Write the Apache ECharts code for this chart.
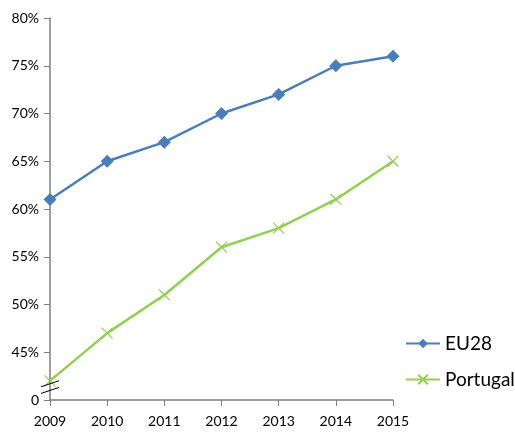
<!DOCTYPE html>
<html>
<head>
<meta charset="utf-8">
<script src="https://cdn.jsdelivr.net/npm/echarts@6/dist/echarts.min.js"></script>
<style>
  html, body { margin: 0; padding: 0; background: #fff; }
  #chart { width: 515px; height: 435px; }
</style>
</head>
<body>
<div id="chart"></div>
<script>
  // data
  var years = ['2009', '2010', '2011', '2012', '2013', '2014', '2015'];
  var eu28 = [61, 65, 67, 70, 72, 75, 76];
  var portugal = [42, 47, 51, 56, 58, 61, 65];
  var yMin = 40, yMax = 80, yStep = 5;

  var axisColor = '#7f7f7f';
  var labelFont = 'Lato';

  var myChart = echarts.init(document.getElementById('chart'));
  var option = {
    animation: false,
    backgroundColor: '#fff',
    textStyle: { fontFamily: labelFont },
    grid: { left: 50, right: 122, top: 18, bottom: 35 },
    legend: {
      orient: 'vertical',
      left: 400,
      top: 329,
      itemWidth: 34,
      itemHeight: 12,
      itemGap: 17,
      textStyle: { fontSize: 19, color: '#000', fontFamily: labelFont },
      data: ['EU28', 'Portugal']
    },
    xAxis: {
      type: 'category',
      data: years,
      boundaryGap: false,
      axisLine: { lineStyle: { color: axisColor, width: 1.5 } },
      axisTick: { alignWithLabel: true, length: 6, lineStyle: { color: axisColor } },
      axisLabel: { color: '#000', fontSize: 14, margin: 14 }
    },
    yAxis: {
      type: 'value',
      min: yMin,
      max: yMax,
      interval: yStep,
      splitLine: { show: false },
      axisLine: { show: true, lineStyle: { color: axisColor, width: 1.5 } },
      axisTick: { show: true, length: 6, lineStyle: { color: axisColor } },
      axisLabel: {
        color: '#000',
        fontSize: 14,
        margin: 11,
        formatter: function (v) { return v === yMin ? '0' : v + '%'; }
      }
    },
    series: [
      {
        name: 'EU28',
        type: 'line',
        data: eu28,
        symbol: 'diamond',
        symbolSize: 13,
        lineStyle: { color: '#4a7ebb', width: 2.5 },
        itemStyle: { color: '#4a7ebb' }
      },
      {
        name: 'Portugal',
        type: 'line',
        data: portugal,
        symbol: 'path://M0,0L10,10M10,0L0,10',
        symbolSize: 11,
        lineStyle: { color: '#92d050', width: 2.5 },
        itemStyle: { color: 'none', borderColor: '#92d050', borderWidth: 1.2 }
      }
    ]
  };
  myChart.setOption(option);

  // axis break mark just above the "0" tick
  var xAxisPx = myChart.convertToPixel({ xAxisIndex: 0 }, 0);
  var yA = myChart.convertToPixel({ yAxisIndex: 0 }, yMin + 1.0);
  var yB = myChart.convertToPixel({ yAxisIndex: 0 }, yMin + 1.7);
  myChart.setOption({
    graphic: [
      { type: 'line', shape: { x1: xAxisPx - 9, y1: yA + 3, x2: xAxisPx + 9, y2: yA - 3 },
        style: { stroke: '#000', lineWidth: 1 }, z: 100 },
      { type: 'line', shape: { x1: xAxisPx - 9, y1: yB + 3, x2: xAxisPx + 9, y2: yB - 3 },
        style: { stroke: '#000', lineWidth: 1 }, z: 100 }
    ]
  });
</script>
</body>
</html>
